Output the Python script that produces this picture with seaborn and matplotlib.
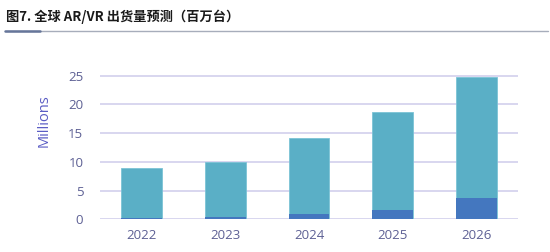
import matplotlib
matplotlib.use("Agg")
import matplotlib.pyplot as plt
import seaborn as sns
import pandas as pd

years = ["2022", "2023", "2024", "2025", "2026"]
ar_units = [0.2, 0.4, 0.9, 1.6, 3.7]      # dark blue bottom segment (millions)
vr_units = [8.7, 9.6, 13.2, 17.1, 21.0]   # light teal top segment (millions)
y_ticks = [0, 5, 10, 15, 20, 25]
title = "图7. 全球 AR/VR 出货量预测（百万台）"
y_label = "Millions"

df = pd.DataFrame({"year": years, "ar": ar_units, "vr": vr_units})
df["total"] = df["ar"] + df["vr"]

sns.set_theme(style="white")
plt.rcParams["font.family"] = ["Open Sans", "DejaVu Sans"]

fig = plt.figure(figsize=(5.5, 2.52), dpi=100)
ax = fig.add_axes([100 / 550, 1 - 219.3 / 252, 418 / 550, 146.6 / 252])

light = "#5AAFC6"
dark = "#4477BF"
sns.barplot(data=df, x="year", y="total", color=light, saturation=1, width=0.49,
            edgecolor="#7cc3d6", linewidth=0.6, ax=ax, zorder=3)
sns.barplot(data=df, x="year", y="ar", color=dark, saturation=1, width=0.49,
            linewidth=0, ax=ax, zorder=4)

ax.set_xlim(-0.5, 4.5)
ax.set_ylim(0, 25.5)
ax.set_yticks(y_ticks)
ax.yaxis.grid(True, color="#d2d0ec", linewidth=1.2, zorder=0)
ax.set_axisbelow(True)
for s in ax.spines.values():
    s.set_visible(False)
ax.tick_params(axis="both", length=0, labelsize=9.5, labelcolor="#5d6094")
ax.tick_params(axis="y", pad=12)
ax.tick_params(axis="x", pad=7)
ax.set_xlabel("")
ax.set_ylabel(y_label, fontsize=10.5, color="#5a5cc4")
ax.yaxis.set_label_coords(-0.115, 0.67)

fig.text(6 / 550, 1 - 17 / 252, title, fontsize=9.5, fontweight="bold",
         family=["Noto Sans CJK SC", "DejaVu Sans"], color="#1a1a1a", va="center", ha="left")
fig.add_artist(plt.Line2D([5 / 550, 548 / 550], [1 - 30.5 / 252] * 2, color="#a7adbb",
                          linewidth=1.0, transform=fig.transFigure))
fig.add_artist(plt.Line2D([5 / 550, 40 / 550], [1 - 30.5 / 252] * 2, color="#66769a",
                          linewidth=1.8, transform=fig.transFigure))

fig.savefig("out.png", dpi=100)
